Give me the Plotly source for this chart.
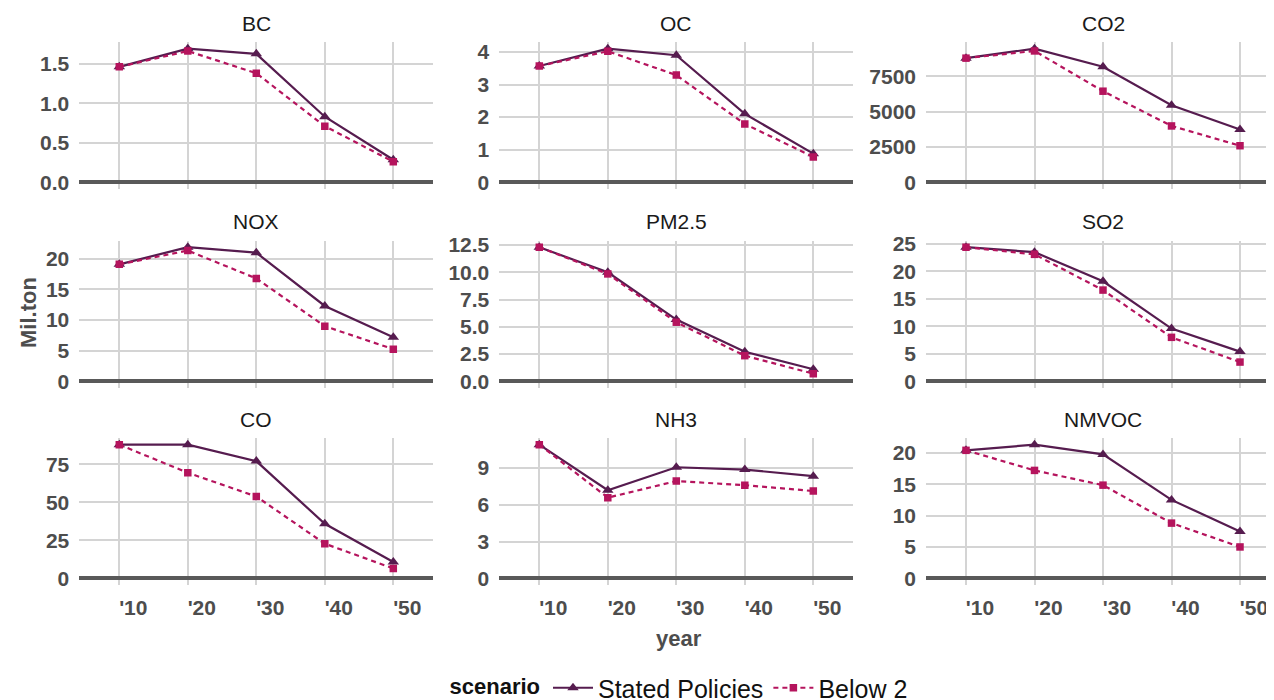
import plotly.graph_objects as go

# ---------------- data ----------------
years = [2010, 2020, 2030, 2040, 2050]
year_labels = ["'10", "'20", "'30", "'40", "'50"]
pollutants = ["BC", "OC", "CO2", "NOX", "PM2.5", "SO2", "CO", "NH3", "NMVOC"]
scenarios = ["Stated Policies", "Below 2"]

bc_stated = [1.46, 1.69, 1.625, 0.83, 0.285]
bc_below2 = [1.46, 1.66, 1.38, 0.71, 0.26]
oc_stated = [3.57, 4.10, 3.90, 2.10, 0.88]
oc_below2 = [3.57, 4.02, 3.29, 1.79, 0.78]
co2_stated = [8790, 9460, 8180, 5450, 3740]
co2_below2 = [8790, 9300, 6450, 3990, 2590]
nox_stated = [19.1, 21.9, 21.0, 12.3, 7.2]
nox_below2 = [19.1, 21.35, 16.8, 9.0, 5.25]
pm25_stated = [12.3, 10.0, 5.66, 2.71, 1.10]
pm25_below2 = [12.3, 9.85, 5.42, 2.35, 0.70]
so2_stated = [24.4, 23.5, 18.2, 9.6, 5.4]
so2_below2 = [24.4, 23.1, 16.6, 8.0, 3.5]
co_stated = [88.0, 88.0, 77.2, 35.9, 10.8]
co_below2 = [88.0, 69.5, 53.9, 22.8, 6.5]
nh3_stated = [10.9, 7.18, 9.06, 8.87, 8.33]
nh3_below2 = [10.9, 6.58, 7.93, 7.60, 7.12]
nmvoc_stated = [20.4, 21.3, 19.75, 12.5, 7.47]
nmvoc_below2 = [20.4, 17.2, 14.85, 8.8, 5.0]

bc_ticks = [0, 0.5, 1.0, 1.5]
bc_ticktext = ["0.0", "0.5", "1.0", "1.5"]
oc_ticks = [0, 1, 2, 3, 4]
oc_ticktext = ["0", "1", "2", "3", "4"]
co2_ticks = [0, 2500, 5000, 7500]
co2_ticktext = ["0", "2500", "5000", "7500"]
nox_ticks = [0, 5, 10, 15, 20]
nox_ticktext = ["0", "5", "10", "15", "20"]
pm25_ticks = [0, 2.5, 5.0, 7.5, 10.0, 12.5]
pm25_ticktext = ["0.0", "2.5", "5.0", "7.5", "10.0", "12.5"]
so2_ticks = [0, 5, 10, 15, 20, 25]
so2_ticktext = ["0", "5", "10", "15", "20", "25"]
co_ticks = [0, 25, 50, 75]
co_ticktext = ["0", "25", "50", "75"]
nh3_ticks = [0, 3, 6, 9]
nh3_ticktext = ["0", "3", "6", "9"]
nmvoc_ticks = [0, 5, 10, 15, 20]
nmvoc_ticktext = ["0", "5", "10", "15", "20"]

series = {
    "BC": (bc_stated, bc_below2, bc_ticks, bc_ticktext),
    "OC": (oc_stated, oc_below2, oc_ticks, oc_ticktext),
    "CO2": (co2_stated, co2_below2, co2_ticks, co2_ticktext),
    "NOX": (nox_stated, nox_below2, nox_ticks, nox_ticktext),
    "PM2.5": (pm25_stated, pm25_below2, pm25_ticks, pm25_ticktext),
    "SO2": (so2_stated, so2_below2, so2_ticks, so2_ticktext),
    "CO": (co_stated, co_below2, co_ticks, co_ticktext),
    "NH3": (nh3_stated, nh3_below2, nh3_ticks, nh3_ticktext),
    "NMVOC": (nmvoc_stated, nmvoc_below2, nmvoc_ticks, nmvoc_ticktext),
}

# ---------------- style ----------------
W, H = 1274, 700
OFF = 8  # page body margin offset (screen px -> figure px)
FONT = "Liberation Sans, Arial, sans-serif"
C_STATED = "#561c4f"
C_BELOW = "#b5145d"
GRID = "#d4d4d4"
TICKC = "#4d4d4d"

col_px = [(79.3, 433.3), (499.3, 853.3), (926.0, 1280.0)]
row_px = [(42.0, 189.0), (240.5, 388.0), (438.0, 585.0)]
x_range = [2004.16, 2055.84]


def fx(px):
    return (px - OFF) / W


def fy(py):
    return 1 - (py - OFF) / H


fig = go.Figure()
layout = {}
annotations = []

for i, name in enumerate(pollutants):
    r, c = divmod(i, 3)
    n = i + 1
    xa = "x" if n == 1 else f"x{n}"
    ya = "y" if n == 1 else f"y{n}"
    xkey = "xaxis" if n == 1 else f"xaxis{n}"
    ykey = "yaxis" if n == 1 else f"yaxis{n}"
    st, b2, tv, tt = series[name]
    M = max(max(st), max(b2))

    fig.add_trace(go.Scatter(
        x=years, y=st, xaxis=xa, yaxis=ya, mode="lines+markers",
        name=scenarios[0], legendgroup="sp", showlegend=(i == 0),
        line=dict(color=C_STATED, width=2.2),
        marker=dict(symbol="triangle-up", size=10, color=C_STATED),
    ))
    fig.add_trace(go.Scatter(
        x=years, y=b2, xaxis=xa, yaxis=ya, mode="lines+markers",
        name=scenarios[1], legendgroup="b2", showlegend=(i == 0),
        line=dict(color=C_BELOW, width=2.2, dash="5px,4px"),
        marker=dict(symbol="square", size=7.5, color=C_BELOW),
    ))

    x0, x1 = col_px[c]
    y0, y1 = row_px[r]
    layout[xkey] = dict(
        domain=[fx(x0), min(fx(x1), 1.0)], anchor=ya, range=x_range,
        tickvals=years, ticktext=year_labels, showticklabels=(r == 2),
        showgrid=True, gridcolor=GRID, gridwidth=2, zeroline=False,
        showline=False, ticks="", ticklabelshift=14, ticklabelstandoff=8,
        automargin=False,
        tickfont=dict(family=FONT, size=21, color=TICKC, weight="bold"),
    )
    layout[ykey] = dict(
        domain=[fy(y1), fy(y0)], anchor=xa,
        range=[-0.05 * M, 1.05 * M], tickvals=tv, ticktext=tt,
        showgrid=True, gridcolor=GRID, gridwidth=2,
        zeroline=True, zerolinecolor="#595959", zerolinewidth=4,
        showline=False, ticks="", ticklabelstandoff=9, automargin=False,
        tickfont=dict(family=FONT, size=21, color=TICKC, weight="bold"),
    )
    annotations.append(dict(
        text=name, x=fx((x0 + x1) / 2), y=fy(y0 - 19),
        xref="paper", yref="paper", showarrow=False,
        xanchor="center", yanchor="middle",
        font=dict(family=FONT, size=21, color="#1a1a1a"),
    ))

annotations.append(dict(
    text="Mil.ton", x=fx(28), y=fy(313), xref="paper", yref="paper",
    showarrow=False, textangle=-90, xanchor="center", yanchor="middle",
    font=dict(family=FONT, size=22, color=TICKC, weight="bold"),
))
annotations.append(dict(
    text="year", x=fx(679), y=fy(638), xref="paper", yref="paper",
    showarrow=False, xanchor="center", yanchor="middle",
    font=dict(family=FONT, size=22, color=TICKC, weight="bold"),
))

fig.update_layout(
    **layout,
    width=W, height=H,
    margin=dict(l=0, r=0, t=0, b=0, autoexpand=False),
    paper_bgcolor="white", plot_bgcolor="white",
    annotations=annotations,
    showlegend=True,
    legend=dict(
        orientation="h", x=fx(680), xanchor="center",
        y=fy(688), yanchor="middle",
        title=dict(text="scenario", font=dict(family=FONT, size=22, color="#111111", weight="bold")),
        font=dict(family=FONT, size=25, color="#111111"),
        itemwidth=40, bgcolor="rgba(0,0,0,0)",
    ),
)

fig.write_html("out.html")
